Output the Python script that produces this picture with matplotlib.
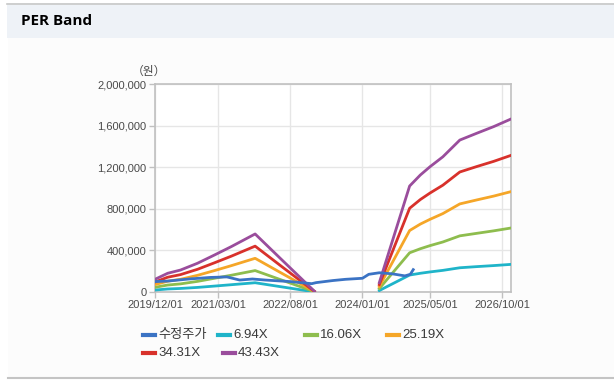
import matplotlib
matplotlib.use("Agg")
import matplotlib.pyplot as plt
from matplotlib.lines import Line2D
from matplotlib.patches import Rectangle
import pandas as pd

plt.rcParams['font.family'] = ['Liberation Sans', 'Noto Sans CJK KR', 'DejaVu Sans']

# ---------------- data ----------------
price_dates = ["2019-12-01", "2020-03-01", "2020-08-01", "2021-01-01", "2021-05-01",
               "2021-08-01", "2021-11-01", "2022-02-01", "2022-08-01", "2023-01-01",
               "2023-02-01", "2023-06-01", "2023-09-01", "2024-01-01", "2024-02-15",
               "2024-05-01", "2024-08-01", "2024-11-01", "2024-12-10", "2024-12-31"]
price = [100000, 105000, 125000, 140000, 145000,
         115000, 125000, 115000, 100000, 80000,
         90000, 110000, 122000, 132000, 170000,
         185000, 175000, 155000, 170000, 215000]

band1_dates = ["2019-12-01", "2020-03-01", "2020-06-01", "2020-10-01", "2021-02-01",
               "2021-06-01", "2021-11-20", "2022-06-01", "2023-01-20"]
band2_dates = ["2024-05-01", "2024-12-05", "2025-02-20", "2025-05-01", "2025-08-01",
               "2025-12-01", "2026-04-01", "2026-08-01", "2026-11-28"]

per_labels = ["6.94X", "16.06X", "25.19X", "34.31X", "43.43X"]

b694_1 = [19000, 29000, 34000, 44000, 57000, 70000, 89000, 49000, 1000]
b1606_1 = [45000, 67000, 78000, 102000, 132000, 161000, 206000, 114000, 3000]
b2519_1 = [71000, 104000, 122000, 160000, 206000, 253000, 324000, 179000, 5000]
b3431_1 = [96000, 142000, 167000, 218000, 281000, 344000, 441000, 243000, 6000]
b4343_1 = [122000, 180000, 211000, 276000, 356000, 436000, 558000, 308000, 8000]

b694_2 = [14000, 163000, 180000, 193000, 208000, 233000, 244000, 254000, 265000]
b1606_2 = [33000, 377000, 416000, 446000, 481000, 540000, 564000, 588000, 614000]
b2519_2 = [52000, 591000, 653000, 699000, 754000, 847000, 885000, 922000, 963000]
b3431_2 = [71000, 805000, 889000, 952000, 1027000, 1154000, 1206000, 1256000, 1311000]
b4343_2 = [90000, 1019000, 1125000, 1205000, 1300000, 1461000, 1526000, 1590000, 1660000]

x_ticks = ["2019/12/01", "2021/03/01", "2022/08/01", "2024/01/01", "2025/05/01", "2026/10/01"]
y_ticks = [0, 400000, 800000, 1200000, 1600000, 2000000]

colors = {"price": "#3b73c4", "6.94X": "#1fb4c9", "16.06X": "#8ebd4e",
          "25.19X": "#f5a628", "34.31X": "#d8312b", "43.43X": "#9a4d9c"}

# ---------------- figure ----------------
W, H = 614, 382
fig = plt.figure(figsize=(W / 100, H / 100), dpi=100)
fig.patch.set_facecolor("white")

def fy(y):
    return (H - y) / H

def fx(x):
    return x / W

# body panel
fig.add_artist(Rectangle((fx(8), fy(377)), 1 - fx(8), fy(38) - fy(377),
                         transform=fig.transFigure, facecolor="#fcfcfc", edgecolor="none", zorder=0))
# header
fig.add_artist(Rectangle((fx(7), fy(38)), 1 - fx(7), fy(3) - fy(38),
                         transform=fig.transFigure, facecolor="#eef2f7", edgecolor="none", zorder=0))
fig.add_artist(Line2D([fx(7), 1], [fy(3.5), fy(3.5)], transform=fig.transFigure,
                      color="#c8c8c8", lw=1.2, zorder=1))
fig.add_artist(Line2D([fx(8), 1], [fy(377.5), fy(377.5)], transform=fig.transFigure,
                      color="#c4c4c4", lw=1.5, zorder=1))
fig.text(fx(21), fy(21), "PER Band", fontsize=11, fontweight="bold", color="black",
         ha="left", va="center", family=['Open Sans', 'DejaVu Sans'])

ax = fig.add_axes([fx(155), fy(292), fx(511) - fx(155), fy(84) - fy(292)])
ax.set_facecolor("white")

pdates = pd.to_datetime(price_dates)
d1 = pd.to_datetime(band1_dates)
d2 = pd.to_datetime(band2_dates)

seg1 = [b694_1, b1606_1, b2519_1, b3431_1, b4343_1]
seg2 = [b694_2, b1606_2, b2519_2, b3431_2, b4343_2]
for lab, s1, s2 in zip(per_labels, seg1, seg2):
    ax.plot(d1, s1, color=colors[lab], lw=2, solid_joinstyle="round", zorder=3)
    ax.plot(d2, s2, color=colors[lab], lw=2, solid_joinstyle="round", zorder=3)
ax.plot(pdates, price, color=colors["price"], lw=2, solid_joinstyle="round", zorder=4)

ax.set_xlim(pd.Timestamp("2019-12-01"), pd.Timestamp("2026-12-04"))
ax.set_ylim(0, 2000000)
ax.set_xticks(pd.to_datetime([t.replace("/", "-") for t in x_ticks]))
ax.set_xticklabels(x_ticks)
ax.set_yticks(y_ticks)
ax.set_yticklabels([f"{v:,}" for v in y_ticks])
ax.tick_params(axis="both", labelsize=8, colors="#c0c0c0", labelcolor="#4a4a4a",
               length=4, width=1)
ax.tick_params(axis="x", pad=2)
ax.tick_params(axis="y", pad=2)
ax.grid(True, color="#e6e6e6", lw=1)
ax.set_axisbelow(True)
for sp in ax.spines.values():
    sp.set_color("#c0c0c0")
    sp.set_linewidth(1.2)

fig.text(fx(149), fy(71), "（원）", fontsize=8.5, color="#4a4a4a", ha="center", va="center",
         family=['Noto Sans CJK KR', 'DejaVu Sans'])

# legend (manual layout)
entries = [("수정주가", colors["price"], 143, 335),
           ("6.94X", colors["6.94X"], 218, 335),
           ("16.06X", colors["16.06X"], 305, 335),
           ("25.19X", colors["25.19X"], 387, 335),
           ("34.31X", colors["34.31X"], 143, 353),
           ("43.43X", colors["43.43X"], 223, 353)]
for text, c, x0, y0 in entries:
    fig.add_artist(Line2D([fx(x0), fx(x0 + 12)], [fy(y0), fy(y0)], transform=fig.transFigure,
                          color=c, lw=3))
    fig.text(fx(x0 + 15), fy(y0), text, fontsize=9.5, color="#3a3a3a", ha="left", va="center")

fig.savefig("out.png", dpi=100)
